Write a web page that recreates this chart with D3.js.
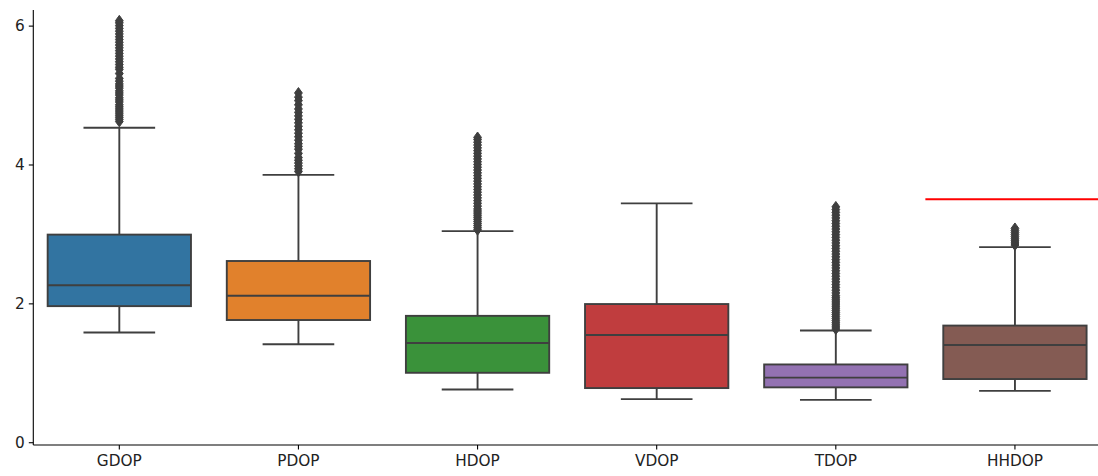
<!DOCTYPE html>
<html>
<head>
<meta charset="utf-8">
<script src="https://cdn.jsdelivr.net/npm/d3@7"></script>
<style>
  html, body { margin: 0; padding: 0; background: #fff; }
  svg { display: block; }
  text { font-family: "DejaVu Sans", sans-serif; }
</style>
</head>
<body>
<svg id="chart" width="1098" height="476"></svg>
<script>
// Dilution-of-precision summary per metric
const categories   = ["GDOP", "PDOP", "HDOP", "VDOP", "TDOP", "HHDOP"];
const whiskerLow   = [1.58, 1.41, 0.76, 0.62, 0.61, 0.74];
const q1           = [1.96, 1.76, 1.00, 0.78, 0.79, 0.91];
const median       = [2.26, 2.11, 1.43, 1.545, 0.93, 1.40];
const q3           = [2.99, 2.61, 1.82, 1.99, 1.12, 1.68];
const whiskerHigh  = [4.53, 3.85, 3.04, 3.44, 1.61, 2.81];
const colors       = ["#3274a1", "#e1812c", "#3a923a", "#c03d3e", "#9372b2", "#845b53"];

// Outlying observations above the upper whisker
const fliersGDOP = [4.62, 4.65, 4.68, 4.71, 4.74, 4.77, 4.80, 4.83, 4.86, 4.90, 4.93, 4.96, 5.00, 5.03,
  5.06, 5.10, 5.13, 5.16, 5.20, 5.24, 5.31, 5.37, 5.40, 5.44, 5.48, 5.52, 5.56, 5.60, 5.64, 5.68,
  5.72, 5.76, 5.80, 5.84, 5.88, 5.92, 5.96, 6.00, 6.04, 6.07];
const fliersPDOP = [3.90, 3.94, 3.98, 4.02, 4.06, 4.10, 4.16, 4.22, 4.26, 4.30, 4.35, 4.40, 4.45, 4.50,
  4.55, 4.60, 4.65, 4.70, 4.75, 4.80, 4.86, 4.92, 4.97, 5.03];
const fliersHDOP = [3.06, 3.09, 3.12, 3.15, 3.18, 3.21, 3.24, 3.27, 3.30, 3.33, 3.36, 3.40, 3.44, 3.48,
  3.52, 3.56, 3.60, 3.64, 3.68, 3.72, 3.76, 3.80, 3.84, 3.88, 3.92, 3.96, 4.00, 4.04, 4.08, 4.12,
  4.16, 4.20, 4.24, 4.28, 4.32, 4.36, 4.39];
const fliersVDOP = [];
const fliersTDOP = [1.63, 1.66, 1.69, 1.72, 1.75, 1.78, 1.81, 1.84, 1.87, 1.90, 1.93, 1.96, 1.99, 2.02,
  2.05, 2.08, 2.11, 2.15, 2.19, 2.23, 2.27, 2.31, 2.35, 2.39, 2.43, 2.47, 2.51, 2.55, 2.59, 2.63,
  2.67, 2.71, 2.75, 2.79, 2.83, 2.87, 2.91, 2.95, 2.99, 3.03, 3.07, 3.11, 3.15, 3.19, 3.23, 3.27,
  3.31, 3.35, 3.39];
const fliersHHDOP = [2.84, 2.87, 2.90, 2.93, 2.96, 2.99, 3.02, 3.05, 3.08];
const fliers = [fliersGDOP, fliersPDOP, fliersHDOP, fliersVDOP, fliersTDOP, fliersHHDOP];

// Reference threshold drawn over the last category
const thresholdValue = 3.5;
const thresholdFrom  = "HHDOP";

const yTicks = [0, 2, 4, 6];

const svg = d3.select("#chart");
const plot = { left: 33.3, right: 1098, top: 10, bottom: 445 };

const x = d3.scaleBand().domain(categories).range([29.75, 1104.5]).padding(0);
const y = d3.scaleLinear().domain([-0.04, 6.225]).range([plot.bottom, plot.top]);

const bw = x.bandwidth();
const boxW = bw * 0.8;
const capW = boxW / 2;
const lineColor = "#3f3f3f";
const lw = 1.9;

const g = svg.append("g");

// Boxes, whiskers and fliers
categories.forEach((c, i) => {
  const cx = x(c) + bw / 2;
  const grp = g.append("g");

  // whiskers
  grp.append("line")
    .attr("x1", cx).attr("x2", cx)
    .attr("y1", y(q3[i])).attr("y2", y(whiskerHigh[i]))
    .attr("stroke", lineColor).attr("stroke-width", lw);
  grp.append("line")
    .attr("x1", cx).attr("x2", cx)
    .attr("y1", y(q1[i])).attr("y2", y(whiskerLow[i]))
    .attr("stroke", lineColor).attr("stroke-width", lw);
  // caps
  [whiskerHigh[i], whiskerLow[i]].forEach(v => {
    grp.append("line")
      .attr("x1", cx - capW / 2).attr("x2", cx + capW / 2)
      .attr("y1", y(v)).attr("y2", y(v))
      .attr("stroke", lineColor).attr("stroke-width", lw);
  });
  // box
  grp.append("rect")
    .attr("x", cx - boxW / 2)
    .attr("y", y(q3[i]))
    .attr("width", boxW)
    .attr("height", y(q1[i]) - y(q3[i]))
    .attr("fill", colors[i])
    .attr("stroke", lineColor).attr("stroke-width", lw);
  // median
  grp.append("line")
    .attr("x1", cx - boxW / 2).attr("x2", cx + boxW / 2)
    .attr("y1", y(median[i])).attr("y2", y(median[i]))
    .attr("stroke", lineColor).attr("stroke-width", lw);
  // fliers (thin diamonds)
  const dh = 5.4, dw = 3.9;
  grp.selectAll("path.flier").data(fliers[i]).join("path")
    .attr("class", "flier")
    .attr("d", v => {
      const py = y(v);
      return `M${cx},${py - dh} L${cx + dw},${py} L${cx},${py + dh} L${cx - dw},${py} Z`;
    })
    .attr("fill", lineColor)
    .attr("stroke", lineColor)
    .attr("stroke-width", 1);
});

// Threshold line
g.append("line")
  .attr("x1", x(thresholdFrom)).attr("x2", plot.right + 5)
  .attr("y1", y(thresholdValue)).attr("y2", y(thresholdValue))
  .attr("stroke", "#ff0000").attr("stroke-width", 2);

// Y axis
const yAxis = d3.axisLeft(y).tickValues(yTicks).tickSize(4.5).tickPadding(4).tickFormat(d3.format("d"));
const yg = svg.append("g").attr("transform", `translate(${plot.left},0)`).call(yAxis);
yg.select(".domain").remove();
yg.append("line").attr("x1", 0).attr("x2", 0).attr("y1", plot.top).attr("y2", plot.bottom)
  .attr("stroke", "#000").attr("stroke-width", 1.1);
yg.selectAll(".tick line").attr("stroke", "#000").attr("stroke-width", 1.1);
yg.selectAll(".tick text").attr("font-size", 15.3).attr("fill", "#222").attr("font-family", "DejaVu Sans");

// X axis
const xAxis = d3.axisBottom(x).tickSize(4.5).tickPadding(6);
const xg = svg.append("g").attr("transform", `translate(0,${plot.bottom})`).call(xAxis);
xg.select(".domain").remove();
xg.append("line").attr("x1", plot.left).attr("x2", plot.right).attr("y1", 0).attr("y2", 0)
  .attr("stroke", "#000").attr("stroke-width", 1.1);
xg.selectAll(".tick line").attr("stroke", "#000").attr("stroke-width", 1.1);
xg.selectAll(".tick text").attr("font-size", 15.3).attr("fill", "#222").attr("font-family", "DejaVu Sans");
</script>
</body>
</html>
